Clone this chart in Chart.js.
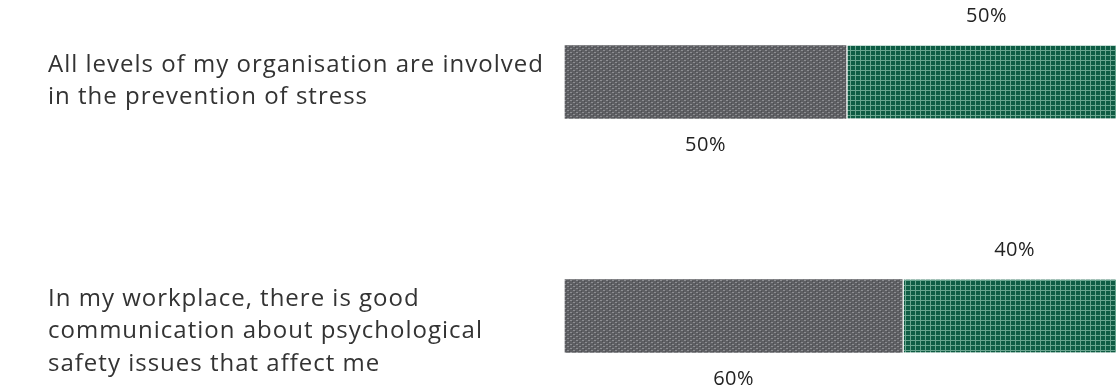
<!DOCTYPE html>
<html>
<head>
<meta charset="utf-8">
<script src="https://cdn.jsdelivr.net/npm/chart.js@4"></script>
<style>
  html, body { margin: 0; padding: 0; background: #fff; overflow: hidden; }
  #wrap { width: 1130px; height: 389px; position: relative; }
</style>
</head>
<body>
<div id="wrap"><canvas id="chart"></canvas></div>
<script>
// Chart data
const statements = [
    ['All levels of my organisation are involved', 'in the prevention of stress'],
    ['In my workplace, there is good', 'communication about psychological', 'safety issues that affect me']
];
const disagreeValues = [50, 60];
const agreeValues = [50, 40];

// Build fill patterns (grey knit and green grid)
function greyPattern() {
    const c = document.createElement('canvas');
    c.width = 6; c.height = 4;
    const g = c.getContext('2d');
    g.fillStyle = '#5e5f63';
    g.fillRect(0, 0, 6, 4);
    g.fillStyle = '#8d8e92';
    g.fillRect(0, 0, 2, 1);
    g.fillRect(3, 2, 2, 1);
    g.fillStyle = '#4c4d51';
    g.fillRect(2, 1, 1, 1);
    g.fillRect(5, 3, 1, 1);
    return g.createPattern(c, 'repeat');
}

function greenPattern() {
    const c = document.createElement('canvas');
    c.width = 5; c.height = 5;
    const g = c.getContext('2d');
    g.fillStyle = '#0e5c44';
    g.fillRect(0, 0, 5, 5);
    g.fillStyle = '#6aa58f';
    g.fillRect(0, 0, 5, 1);
    g.fillRect(0, 0, 1, 5);
    return g.createPattern(c, 'repeat');
}

// Statement text on the left: first line sits just above the bar centre,
// the rest flow downwards (like the original layout)
const statementLabels = {
    id: 'statementLabels',
    afterDraw(chart) {
        const ctx = chart.ctx;
        const yScale = chart.scales.y;
        ctx.save();
        ctx.letterSpacing = '1px';
        ctx.font = '24px "Open Sans", sans-serif';
        ctx.fillStyle = '#333';
        ctx.textAlign = 'left';
        ctx.textBaseline = 'middle';
        chart.data.labels.forEach((lines, i) => {
            const y0 = yScale.getPixelForValue(i) - 17;
            lines.forEach((line, j) => {
                ctx.fillText(line, 48, y0 + j * 32.5);
            });
        });
        ctx.restore();
    }
};

// Percentage labels: green above the bar, grey below
const valueLabels = {
    id: 'valueLabels',
    afterDatasetsDraw(chart) {
        const ctx = chart.ctx;
        ctx.save();
        ctx.letterSpacing = '0.5px';
        ctx.font = '20px "Open Sans", sans-serif';
        ctx.fillStyle = '#222';
        ctx.textAlign = 'center';
        ctx.textBaseline = 'middle';
        chart.data.datasets.forEach((ds, di) => {
            chart.getDatasetMeta(di).data.forEach((bar, i) => {
                const x = (bar.base + bar.x) / 2;
                const half = bar.height / 2;
                const y = di === 1 ? bar.y - half - 29 : bar.y + half + 27;
                ctx.fillText(ds.data[i] + '%', x, y);
            });
        });
        ctx.restore();
    }
};

const ctx = document.getElementById('chart').getContext('2d');
new Chart(ctx, {
    type: 'bar',
    data: {
        labels: statements,
        datasets: [{
            label: 'Disagree',
            data: disagreeValues,
            backgroundColor: greyPattern(),
            barThickness: 73,
            clip: false
        }, {
            label: 'Agree',
            data: agreeValues,
            backgroundColor: greenPattern(),
            borderColor: '#ffffff',
            borderWidth: { left: 2, right: 0, top: 0, bottom: 0 },
            borderSkipped: false,
            barThickness: 73,
            clip: false
        }]
    },
    options: {
        indexAxis: 'y',
        responsive: true,
        maintainAspectRatio: false,
        animation: false,
        layout: {
            padding: { left: 565, right: 3, top: 82, bottom: 73 }
        },
        plugins: {
            legend: { display: false },
            tooltip: { enabled: false }
        },
        scales: {
            x: {
                stacked: true,
                display: false,
                min: 0,
                max: 100
            },
            y: {
                stacked: true,
                offset: false,
                display: false
            }
        }
    },
    plugins: [statementLabels, valueLabels]
});
</script>
</body>
</html>
